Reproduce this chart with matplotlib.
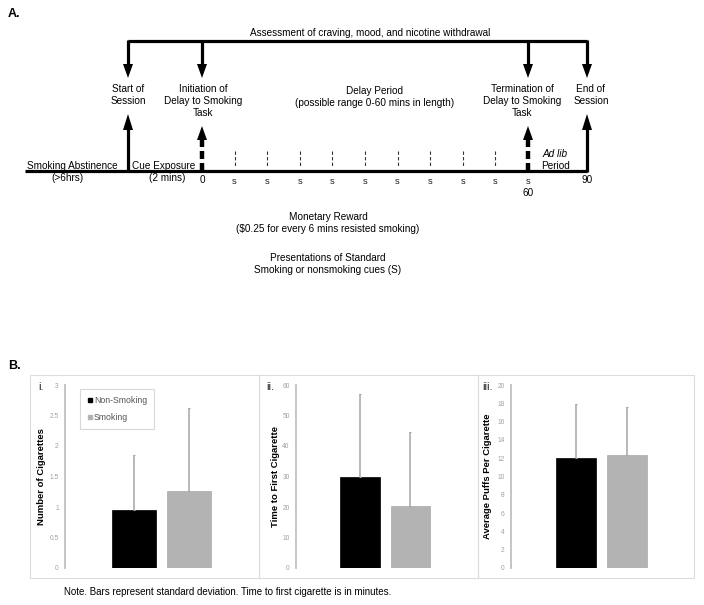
import matplotlib
matplotlib.use("Agg")
import matplotlib.pyplot as plt
from matplotlib.patches import Rectangle, Polygon
from matplotlib.lines import Line2D

plt.rcParams['font.family'] = ['Liberation Sans', 'DejaVu Sans']

# ---------------- data ----------------
groups = ["Non-Smoking", "Smoking"]
bar_colors = ["#000000", "#b3b3b3"]

cig_mean = [0.95, 1.27]
cig_sd = [0.90, 1.36]
time_mean = [29.8, 20.3]
time_sd = [27.2, 24.2]
puff_mean = [12.05, 12.35]
puff_sd = [5.85, 5.2]

cig_ticks = [0, 0.5, 1, 1.5, 2, 2.5, 3]
cig_ticklabels = ["0", "0.5", "1", "1.5", "2", "2.5", "3"]
time_ticks = [0, 10, 20, 30, 40, 50, 60]
puff_ticks = [0, 2, 4, 6, 8, 10, 12, 14, 16, 18, 20]

ylabels = ["Number of Cigarettes", "Time to First Cigarette", "Average Puffs Per Cigarette"]
panel_tags = ["i.", "ii.", "iii."]

# timeline (minutes)
cue_minutes = [6, 12, 18, 24, 30, 36, 42, 48, 54]
cue_label = "s"

W, H = 704, 605
fig = plt.figure(figsize=(W / 100, H / 100), dpi=100)
ax0 = fig.add_axes([0, 0, 1, 1])
ax0.set_xlim(0, W)
ax0.set_ylim(H, 0)
ax0.axis('off')

FS = 7.2

# ---------------- Panel A ----------------
ax0.text(8, 14, "A.", fontsize=9, fontweight='bold', ha='left', va='center')

# horizontal position of timeline events (diagram not to scale)
x_start, x0min, x60min, x_end = 128, 202, 528, 587
def tx(m):
    return x0min + (x60min - x0min) * m / 60.0

y_top, y_line = 41, 171

ax0.plot([x_start, x_end], [y_top, y_top], color='k', lw=2.3, solid_capstyle='butt')
ax0.text(370, 33, "Assessment of craving, mood, and nicotine withdrawal",
         fontsize=FS, ha='center', va='center')

def head(x, tip, direction, w=5, L=14):
    # direction: +1 pointing down, -1 pointing up
    base = tip - direction * L
    ax0.add_patch(Polygon([[x - w, base], [x + w, base], [x, tip]],
                          closed=True, color='k', lw=0))

for x in [x_start, x0min, x60min, x_end]:
    ax0.plot([x, x], [y_top - 1, 66], color='k', lw=2.3, solid_capstyle='butt')
    head(x, 78, +1)

# up arrows (solid)
for x in [x_start, x_end]:
    ax0.plot([x, x], [y_line + 1, 125], color='k', lw=2.3, solid_capstyle='butt')
    head(x, 114, -1, L=16)
# up arrows (dashed)
for x in [x0min, x60min]:
    ax0.plot([x, x], [y_line, 139], color='k', lw=3.2, dashes=(1.8, 0.9),
             solid_capstyle='butt', dash_capstyle='butt')
    head(x, 126, -1, L=14)

# small dashed cue lines
for m in cue_minutes:
    ax0.plot([tx(m), tx(m)], [151, 167], color='#333333', lw=0.8, dashes=(3, 2))
    ax0.text(tx(m), 181, cue_label, fontsize=FS - 0.5, ha='center', va='center', color='#222222')
ax0.text(x60min, 181, cue_label, fontsize=FS - 0.5, ha='center', va='center', color='#222222')

# timeline
ax0.plot([25, x_end], [y_line, y_line], color='k', lw=2.3, solid_capstyle='butt')

ax0.text(27, 166, "Smoking Abstinence", fontsize=FS, ha='left', va='center')
ax0.text(67, 178, "(>6hrs)", fontsize=FS, ha='center', va='center')
ax0.text(164, 166, "Cue Exposure", fontsize=FS, ha='center', va='center')
ax0.text(167, 178, "(2 mins)", fontsize=FS, ha='center', va='center')
ax0.text(x0min, 180, "0", fontsize=FS, ha='center', va='center')
ax0.text(x60min, 193, "60", fontsize=FS, ha='center', va='center')
ax0.text(x_end, 180, "90", fontsize=FS, ha='center', va='center')
ax0.text(555, 154, "Ad lib", fontsize=FS, ha='center', va='center', style='italic')
ax0.text(555, 166, "Period", fontsize=FS, ha='center', va='center')

ax0.text(x_start, 95, "Start of\nSession", fontsize=FS, ha='center', va='center', linespacing=1.25)
ax0.text(203, 101, "Initiation of\nDelay to Smoking\nTask", fontsize=FS, ha='center', va='center', linespacing=1.25)
ax0.text(375, 97, "Delay Period\n(possible range 0-60 mins in length)", fontsize=FS, ha='center', va='center', linespacing=1.25)
ax0.text(522, 101, "Termination of\nDelay to Smoking\nTask", fontsize=FS, ha='center', va='center', linespacing=1.25)
ax0.text(591, 95, "End of\nSession", fontsize=FS, ha='center', va='center', linespacing=1.25)

ax0.text(328, 223, "Monetary Reward\n($0.25 for every 6 mins resisted smoking)", fontsize=FS,
         ha='center', va='center', linespacing=1.25)
ax0.text(328, 264, "Presentations of Standard\nSmoking or nonsmoking cues (S)", fontsize=FS,
         ha='center', va='center', linespacing=1.25)

# ---------------- Panel B ----------------
ax0.text(8, 366, "B.", fontsize=9, fontweight='bold', ha='left', va='center')

boxes = [(30, 259), (259, 478), (478, 694)]
for (l, r) in boxes:
    ax0.add_patch(Rectangle((l, 375), r - l, 203, fill=False, edgecolor='#dcdcdc', lw=0.8))

# axes layout: (left px, right px, xlim, bar width, ylabel x, tag x)
layout = [
    (65, 255, (-1.255, 2.2), 0.80, 41, 38),
    (296, 474, (-1.267, 2.258), 0.79, 275, 266),
    (511, 690, (-1.275, 2.235), 0.78, 488, 482),
]
means = [cig_mean, time_mean, puff_mean]
sds = [cig_sd, time_sd, puff_sd]
ticks = [cig_ticks, time_ticks, puff_ticks]
tlabels = [cig_ticklabels, [str(t) for t in time_ticks], [str(t) for t in puff_ticks]]

top_px, bot_px = 385, 568
for i in range(3):
    l, r, xl, bw, ylab_x, tag_x = layout[i]
    ax = fig.add_axes([l / W, 1 - bot_px / H, (r - l) / W, (bot_px - top_px) / H])
    ax.set_facecolor('none')
    xs = list(range(len(groups)))
    ax.bar(xs, means[i], width=bw, color=bar_colors, edgecolor=['#000000', '#aaaaaa'], lw=0.5, zorder=2)
    ax.errorbar(xs, means[i], yerr=[[0] * len(groups), sds[i]], fmt='none',
                ecolor='#a6a6a6', elinewidth=1.1, capsize=0.8, capthick=0.8, zorder=3)
    ax.set_xlim(*xl)
    ax.set_ylim(ticks[i][0], ticks[i][-1])
    ax.set_yticks(ticks[i])
    ax.set_yticklabels(tlabels[i])
    ax.tick_params(axis='y', length=0, pad=4.5, labelsize=4.8, labelcolor='#a0a0a0')
    ax.set_xticks([])
    for s in ['top', 'right', 'bottom']:
        ax.spines[s].set_visible(False)
    ax.spines['left'].set_color('#c0c0c0')
    ax.spines['left'].set_linewidth(1.3)
    ax0.text(ylab_x, (top_px + bot_px) / 2, ylabels[i], rotation=90, fontsize=6.8,
             fontweight='bold', ha='center', va='center')
    ax0.text(tag_x, 387, panel_tags[i], fontsize=8, ha='left', va='center', color='#222222')
    if i == 0:
        handles = [Line2D([], [], ls='none', marker='s', markersize=3.2,
                          markerfacecolor=c, markeredgecolor=c) for c in bar_colors]
        leg = ax.legend(handles, groups, loc='upper left',
                        bbox_to_anchor=(80 / W, 1 - 389 / H), bbox_transform=fig.transFigure,
                        borderaxespad=0, fontsize=6.3, frameon=True, fancybox=False,
                        handlelength=0.6, handletextpad=0.2, borderpad=0.8,
                        labelspacing=0.9, labelcolor='#555555')
        leg.get_frame().set_edgecolor('#d0d0d0')
        leg.get_frame().set_linewidth(0.8)

ax0.text(64, 592, "Note. Bars represent standard deviation. Time to first cigarette is in minutes.",
         fontsize=7, ha='left', va='center')

fig.savefig("out.png", dpi=100)
